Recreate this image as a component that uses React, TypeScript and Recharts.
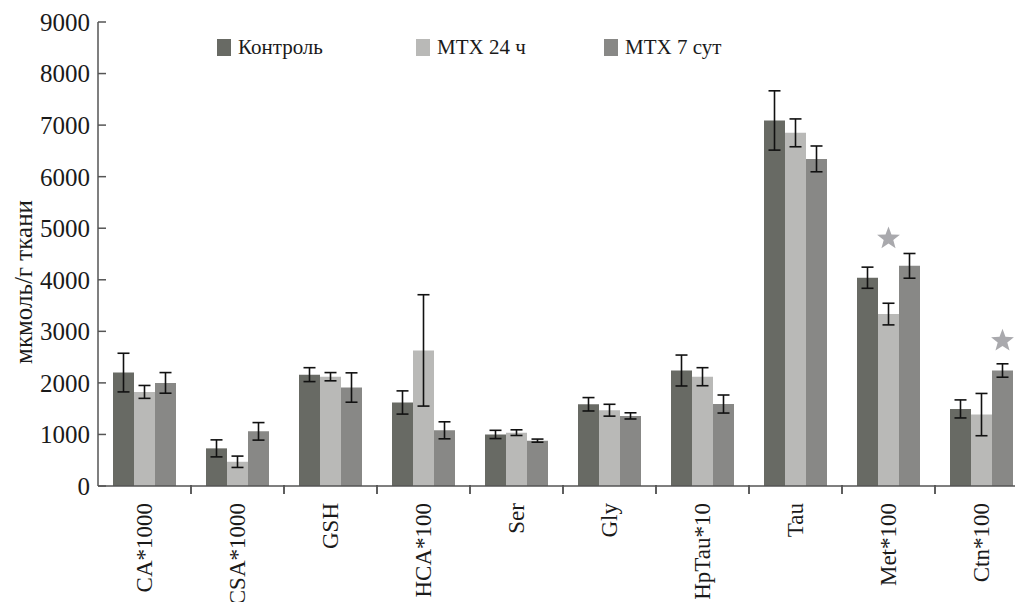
import React from 'react';
import { BarChart, Bar, XAxis, YAxis, ErrorBar, LabelList } from 'recharts';

// Categories and series values
const categories = ['CA*1000', 'CSA*1000', 'GSH', 'HCA*100', 'Ser', 'Gly', 'HpTau*10', 'Tau', 'Met*100', 'Ctn*100'];
const control = [2200, 730, 2160, 1620, 1000, 1585, 2240, 7090, 4040, 1495];
const controlErr = [375, 165, 135, 225, 80, 130, 300, 575, 205, 175];
const mtx24 = [1825, 470, 2120, 2630, 1035, 1470, 2120, 6850, 3335, 1385];
const mtx24Err = [125, 110, 80, 1080, 55, 115, 175, 270, 210, 410];
const mtx7 = [2000, 1060, 1910, 1080, 880, 1360, 1590, 6345, 4270, 2240];
const mtx7Err = [200, 170, 285, 165, 30, 60, 175, 250, 240, 130];
// star markers (significance), value = height where the star sits
const mtx24Star = [null, null, null, null, null, null, null, null, 4800, null];
const mtx7Star = [null, null, null, null, null, null, null, null, null, 2815];
const yTicks = [0, 1000, 2000, 3000, 4000, 5000, 6000, 7000, 8000, 9000];

const COLORS = {
  control: '#686a64',
  mtx24: '#b9b9b7',
  mtx7: '#888886',
  axis: '#555555',
  star: '#a9a9ad',
  text: '#1a1a1a',
};

const data = categories.map((name, i) => ({
  name,
  control: control[i],
  controlErr: controlErr[i],
  mtx24: mtx24[i],
  mtx24Err: mtx24Err[i],
  mtx7: mtx7[i],
  mtx7Err: mtx7Err[i],
}));

const FONT = '"Liberation Serif", "DejaVu Serif", serif';

const starPoints = (cx: number, cy: number, r: number) => {
  const pts: string[] = [];
  for (let k = 0; k < 10; k++) {
    const rad = k % 2 === 0 ? r : r * 0.42;
    const a = -Math.PI / 2 + (k * Math.PI) / 5;
    pts.push(`${cx + rad * Math.cos(a)},${cy + rad * Math.sin(a)}`);
  }
  return pts.join(' ');
};

// star above a bar; its height comes from the star array through the bar's own scale
const makeStarLabel = (stars: (number | null)[]) => (props: any) => {
  const { x, y, width, height, index, value } = props;
  const s = stars[index];
  if (s == null || !value) return null;
  const pxPerUnit = height / value;
  const cy = y + height - s * pxPerUnit;
  return <polygon points={starPoints(x + width / 2, cy, 12)} fill={COLORS.star} />;
};

const XTick = (props: any) => {
  const { x, y, payload, index } = props;
  const half = payload && payload.offset ? payload.offset : 46.5;
  return (
    <g>
      {index > 0 && (
        <line x1={x - half} x2={x - half} y1={y - 9} y2={y} stroke={COLORS.axis} strokeWidth={1.5} />
      )}
      <line x1={x + half} x2={x + half} y1={y - 9} y2={y} stroke={COLORS.axis} strokeWidth={1.5} />
      <text
        x={x}
        y={y + 9}
        transform={`rotate(-90, ${x}, ${y + 9})`}
        textAnchor="end"
        dominantBaseline="central"
        fontFamily={FONT}
        fontSize={23}
        fill={COLORS.text}
      >
        {payload.value}
      </text>
    </g>
  );
};

const YLabel = (props: any) => {
  const vb = props.viewBox || {};
  const cx = 23;
  const cy = (vb.y || 22) + (vb.height || 464) / 2 + 28;
  return (
    <text
      x={cx}
      y={cy}
      transform={`rotate(-90, ${cx}, ${cy})`}
      textAnchor="middle"
      dominantBaseline="central"
      fontFamily={FONT}
      fontSize={25}
      fill={COLORS.text}
    >
      мкмоль/г ткани
    </text>
  );
};

const legendItems = [
  { label: 'Контроль', color: COLORS.control, left: 217 },
  { label: 'MTX 24 ч', color: COLORS.mtx24, left: 416 },
  { label: 'MTX 7 сут', color: COLORS.mtx7, left: 604 },
];

export default function App() {
  return (
    <div style={{ position: 'absolute', left: 0, top: 0, width: 1015, height: 602, overflow: 'hidden', background: '#fff' }}>
      <BarChart
        width={1030}
        height={602}
        data={data}
        margin={{ top: 22, right: 2, left: 0, bottom: 0 }}
        barGap={0}
        barCategoryGap={15}
      >
        <YAxis
          domain={[0, 9000]}
          ticks={yTicks}
          width={98}
          interval={0}
          tickSize={-8}
          tickMargin={16}
          axisLine={{ stroke: COLORS.axis, strokeWidth: 1.5 }}
          tickLine={{ stroke: COLORS.axis, strokeWidth: 1.5 }}
          tick={{ fontFamily: FONT, fontSize: 25, fill: COLORS.text }}
          label={<YLabel />}
        />
        <XAxis
          dataKey="name"
          height={116}
          interval={0}
          tickLine={false}
          axisLine={{ stroke: COLORS.axis, strokeWidth: 1.5 }}
          tick={<XTick />}
        />
        <Bar dataKey="control" fill={COLORS.control} isAnimationActive={false}>
          <ErrorBar dataKey="controlErr" width={6} stroke="#111" strokeWidth={1.6} />
        </Bar>
        <Bar dataKey="mtx24" fill={COLORS.mtx24} isAnimationActive={false}>
          <ErrorBar dataKey="mtx24Err" width={6} stroke="#111" strokeWidth={1.6} />
          <LabelList dataKey="mtx24" content={makeStarLabel(mtx24Star)} />
        </Bar>
        <Bar dataKey="mtx7" fill={COLORS.mtx7} isAnimationActive={false}>
          <ErrorBar dataKey="mtx7Err" width={6} stroke="#111" strokeWidth={1.6} />
          <LabelList dataKey="mtx7" content={makeStarLabel(mtx7Star)} />
        </Bar>
      </BarChart>
      {legendItems.map((it) => (
        <div
          key={it.label}
          style={{
            position: 'absolute',
            left: it.left,
            top: 33,
            display: 'flex',
            alignItems: 'center',
            fontFamily: FONT,
            fontSize: 21,
            lineHeight: '28px',
            color: COLORS.text,
            whiteSpace: 'nowrap',
          }}
        >
          <span style={{ display: 'inline-block', width: 14, height: 17, background: it.color, marginRight: 7 }} />
          <span>{it.label}</span>
        </div>
      ))}
    </div>
  );
}
